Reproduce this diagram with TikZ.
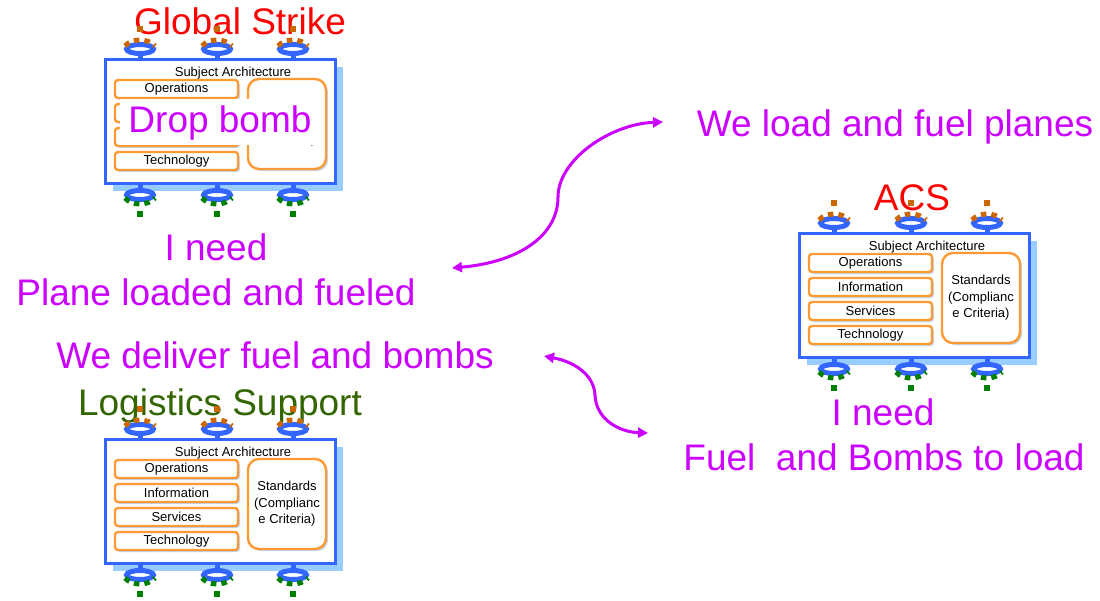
\documentclass[tikz,border=0pt]{standalone}
\usepackage{fontspec}
\setmainfont{Liberation Sans}
\usetikzlibrary{arrows.meta,shadows}
\definecolor{magT}{RGB}{204,0,255}
\definecolor{redT}{RGB}{255,0,0}
\definecolor{greenT}{RGB}{51,102,0}
\definecolor{boxblue}{RGB}{51,102,255}
\definecolor{shadowblue}{RGB}{153,204,255}
\definecolor{layershadow}{RGB}{168,196,232}
\definecolor{orangeB}{RGB}{255,153,51}
\definecolor{portbrown}{RGB}{204,102,0}
\definecolor{portgreen}{RGB}{0,128,0}
\tikzset{
  big/.style={font=\fontsize{37}{44}\selectfont, inner sep=0, anchor=base},
  mainbox/.style={draw=boxblue, line width=3, fill=white, minimum width=230, minimum height=124, inner sep=0},
  layerbox/.style={draw=orangeB, line width=2.4, rounded corners=3, fill=white, minimum width=123, minimum height=18, inner sep=0,
    font=\fontsize{13}{15}\selectfont,
    drop shadow={shadow xshift=2pt, shadow yshift=-2pt, fill=layershadow, opacity=0.7}},
  stdbox/.style={draw=orangeB, line width=2.4, rounded corners=11, fill=white, minimum width=78, minimum height=90, inner sep=0,
    align=center, font=\fontsize{13}{16.5}\selectfont,
    drop shadow={shadow xshift=2pt, shadow yshift=-2pt, fill=layershadow, opacity=0.7}},
  stem/.style={boxblue, line width=5},
  ring/.style={boxblue, line width=5},
  brownarc/.style={portbrown, line width=5, dash pattern=on 5.5 off 5},
  greenarc/.style={portgreen, line width=5, dash pattern=on 5.5 off 5},
  flowarrow/.style={magT, line width=3, {Triangle[length=10pt,width=10pt]}-{Triangle[length=10pt,width=10pt]}},
  module/.pic={
    \fill[shadowblue] (8,8) rectangle (238,132);
    \node[mainbox] (-box) at (115,62) {};
    \node[font=\fontsize{13}{15}\selectfont, inner sep=0, anchor=base] (-title) at (128,17.5) {Subject Architecture};
    \node[layerbox] (-ops) at (71.5,30) {Operations};
    \node[layerbox] (-inf) at (71.5,54) {Information};
    \node[layerbox] (-srv) at (71.5,78) {Services};
    \node[layerbox] (-tec) at (71.5,102) {Technology};
    \node[stdbox] (-std) at (182,65) {Standards\\(Complianc\\e Criteria)};
    \foreach \px in {35,112,188} {
      \draw[stem] (\px,-6) -- (\px,0);
      \draw[ring] (\px,-10) ellipse [x radius=13.5, y radius=4.5];
      \draw[brownarc] (\px-15,-13) .. controls (\px-8,-21) and (\px+8,-21) .. (\px+15,-13);
      \fill[portbrown] (\px-3,-33) rectangle (\px+3,-27);
      \draw[stem] (\px,124) -- (\px,131);
      \draw[ring] (\px,136) ellipse [x radius=13.5, y radius=4.5];
      \draw[greenarc] (\px-15,139) .. controls (\px-8,147) and (\px+8,147) .. (\px+15,139);
      \fill[portgreen] (\px-3,152) rectangle (\px+3,158);
    }
  }
}
\begin{document}
\begin{tikzpicture}[x=1pt,y=-1pt]
\useasboundingbox (0,0) rectangle (1100,600);
\fill[white] (0,0) rectangle (1100,600);
% titles
\node[big, text=redT] (gstitle) at (240,34) {Global Strike};
\node[big, text=redT] (acstitle) at (912,210) {ACS};
\node[big, text=greenT] (lstitle) at (220,415) {Logistics Support};
% modules
\pic (gs) at (105,59) {module};
\pic (acs) at (799,233) {module};
\pic (ls) at (105,439) {module};
% overlay
\node[fill=white, minimum width=200, minimum height=46, text height=27, text depth=7, inner sep=0,
      font=\fontsize{37}{44}\selectfont, text=magT] (drop) at (220,122) {Drop bomb};
% statements
\node[big, text=magT] (load) at (895,136) {We load and fuel planes};
\node[big, text=magT] (need1) at (216,260) {I need};
\node[big, text=magT] (plane) at (216,305) {Plane loaded and fueled};
\node[big, text=magT] (deliver) at (275,368) {We deliver fuel and bombs};
\node[big, text=magT] (need2) at (883,425) {I need};
\node[big, text=magT] (fuel) at (884,470) {Fuel\ \ and Bombs to load};
% connectors
\coordinate (a1s) at (452,268);
\coordinate (a1m) at (558,197);
\coordinate (a1e) at (663,122);
\coordinate (a2s) at (544,356);
\coordinate (a2m) at (595,395);
\coordinate (a2e) at (648,433);
\draw[flowarrow] (a1s) .. controls (520,262) and (558,235) .. (a1m) .. controls (558,160) and (610,124) .. (a1e);
\draw[flowarrow] (a2s) .. controls (575,362) and (594,375) .. (a2m) .. controls (596,420) and (620,432) .. (a2e);
\end{tikzpicture}
\end{document}
